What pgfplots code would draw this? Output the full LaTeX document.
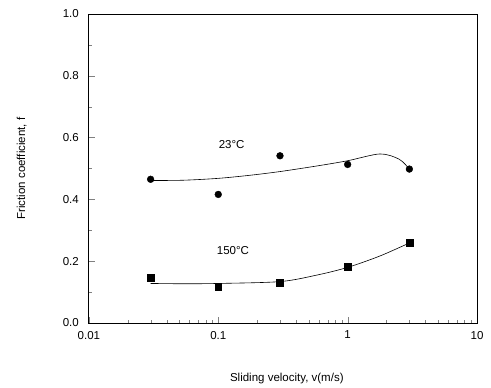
\documentclass[border=0pt]{standalone}
\usepackage{fontspec}
\setmainfont{Liberation Sans}
\usepackage{pgfplots}
\pgfplotsset{compat=1.18}
\begin{document}
\fontsize{11.5}{13}\selectfont
\begin{tikzpicture}
\begin{axis}[
  scale only axis, width=388pt, height=309pt,
  xmode=log, xmin=0.01, xmax=10, ymin=0, ymax=1.0,
  xtick={0.01,0.1,1,10}, xticklabels={0.01,0.1,1,10},
  ytick={0,0.2,0.4,0.6,0.8,1.0},
  yticklabels={0.0,0.2,0.4,0.6,0.8,1.0},
  minor ytick={0.1,0.3,0.5,0.7,0.9},
  tick align=inside, xtick pos=bottom, ytick pos=left,
  major tick length=6pt, minor tick length=3pt,
  /pgf/number format/assume math mode=true,
  tick label style={font=\fontsize{11.5}{13}\selectfont},
  xticklabel style={yshift=-4pt},
  yticklabel style={xshift=-6pt},
  xlabel={Sliding velocity, v(m/s)},
  ylabel={Friction coefficient, f},
  xlabel style={at={(axis description cs:0.51,-0.178)}, anchor=center},
  ylabel style={at={(axis description cs:-0.173,0.5)}, anchor=center},
  axis line style={line width=0.8pt},
  clip=false,
]
% 23 C data
\addplot[only marks, mark=*, mark size=3.4pt, black] coordinates {
 (0.03,0.465) (0.1,0.416) (0.3,0.541) (1,0.513) (3,0.498)};
% 23 C fitted curve
\addplot[smooth, black, line width=0.6pt, mark=none] coordinates {
 (0.03,0.461) (0.054,0.462) (0.1,0.468) (0.176,0.478) (0.3,0.490)
 (0.577,0.508) (1,0.525) (1.78,0.547) (2.5,0.530) (3,0.498)};
% 150 C data
\addplot[only marks, mark=square*, mark size=3.4pt, black] coordinates {
 (0.03,0.147) (0.1,0.118) (0.3,0.131) (1,0.182) (3,0.261)};
% 150 C fitted curve
\addplot[smooth, black, line width=0.6pt, mark=none] coordinates {
 (0.03,0.128) (0.054,0.127) (0.1,0.128) (0.3,0.134) (0.577,0.155)
 (1,0.180) (1.78,0.217) (3,0.259)};
\node at (axis cs:0.127,0.576) {23\textdegree C};
\node at (axis cs:0.13,0.236) {150\textdegree C};
\path (rel axis cs:-0.229,-0.197) (rel axis cs:1.036,1.045);
\end{axis}
\end{tikzpicture}
\end{document}
